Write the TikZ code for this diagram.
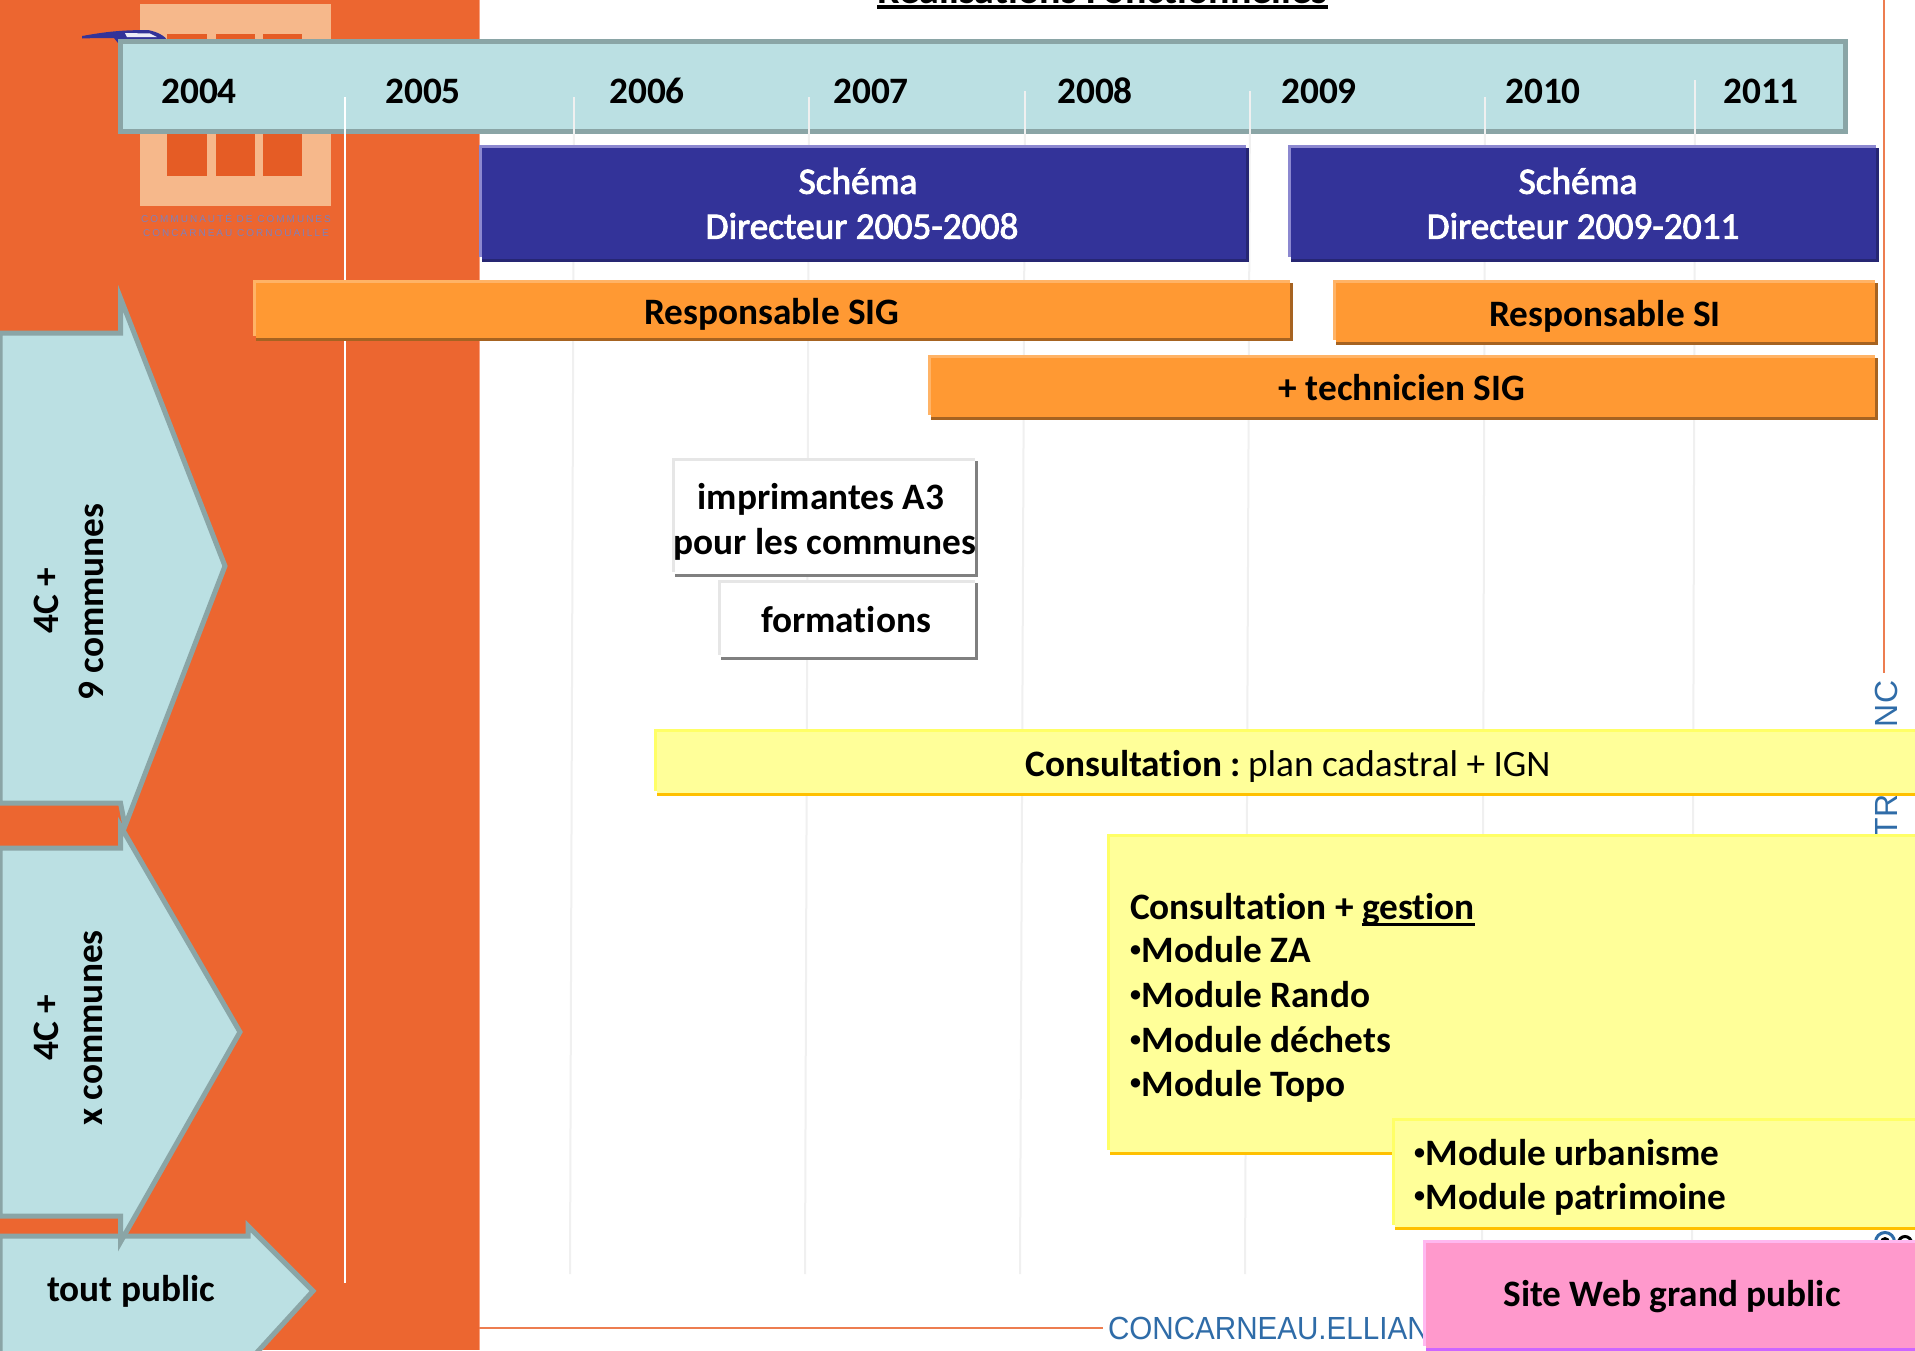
\documentclass[tikz,border=0pt]{standalone}
\usepackage{fontspec}
\setmainfont[Ligatures=NoCommon]{Carlito}
\newfontfamily\webfont{Liberation Sans}
\definecolor{orangebg}{HTML}{EC6630}
\definecolor{orangeedge}{HTML}{F8A080}
\definecolor{tealfill}{HTML}{BBE0E3}
\definecolor{tealline}{HTML}{8AA5A6}
\definecolor{logolight}{HTML}{F6B88B}
\definecolor{logodark}{HTML}{E55C25}
\definecolor{logotext}{HTML}{8080B8}
\definecolor{navyfill}{HTML}{333399}
\definecolor{navylight}{HTML}{8C88D0}
\definecolor{navydark}{HTML}{262673}
\definecolor{orfill}{HTML}{FF9933}
\definecolor{orlight}{HTML}{FFB366}
\definecolor{ordark}{HTML}{A66321}
\definecolor{yefill}{HTML}{FFFF99}
\definecolor{yelight}{HTML}{FFFF66}
\definecolor{yedark}{HTML}{FFC000}
\definecolor{pkfill}{HTML}{FF99CC}
\definecolor{pklight}{HTML}{FFB8F0}
\definecolor{pkdark}{HTML}{CC66FF}
\definecolor{wlight}{HTML}{E6E6E6}
\definecolor{wdark}{HTML}{808080}
\definecolor{gridgrey}{HTML}{F0F0F0}
\definecolor{weblue}{HTML}{2F6CA8}
\definecolor{webline}{HTML}{ED7D50}
\newcommand{\heavy}[1]{\special{pdf:code 2 Tr 0.9 w 1 1 1 RG}#1\special{pdf:code 0 Tr}}
\tikzset{
  x=1pt,y=-1pt,
  txt/.style={inner sep=0pt,outer sep=0pt,font=\fontsize{37.3}{45}\selectfont\bfseries,text=black,align=center},
  txtleft/.style={txt,align=left,anchor=west},
  whitetxt/.style={txt,text=white,font=\fontsize{37.3}{45}\selectfont},
  yeartxt/.style={txt},
  rottxt/.style={txt,rotate=90},
  arrowshape/.style={fill=tealfill,draw=tealline,line width=5pt,miter limit=10},
  gridline/.style={draw=gridgrey,line width=2pt},
  webtxt/.style={inner sep=0pt,outer sep=0pt,text=weblue,font=\fontsize{32}{32}\selectfont\webfont},
  logotxt/.style={inner sep=0pt,text=logotext,font=\fontsize{10}{10}\selectfont\webfont\addfontfeature{LetterSpace=20}},
}
% \shbox{x1}{y1}{x2}{y2}{fill}{light}{dark}
\newcommand{\shbox}[7]{%
  \fill[#7] (#1+3,#2+3) rectangle (#3,#4);
  \fill[#6] (#1,#2) rectangle (#3-3,#4-5);
  \fill[#5] (#1+3,#2+3) rectangle (#3-3,#4-3);
}
\newcommand{\thickul}[3]{\setbox0\hbox{#1}\rlap{\rule[#2]{\wd0}{#3}}\box0}
\newcommand{\smallbull}{\raisebox{6.5pt}{\fontsize{22}{22}\selectfont •}\hspace{0.5pt}}
\begin{document}
\begin{tikzpicture}
\useasboundingbox (0,0) rectangle (1915,1350);
\clip (0,0) rectangle (1915,1350);
\fill[white] (0,0) rectangle (1915,1350);
% title
\node[txt,anchor=base,font=\fontsize{40}{45}\selectfont\bfseries] (title) at (1102.5,3) {\thickul{Réalisations Fonctionnelles}{-6pt}{4pt}};
% background
\fill[orangebg] (0,0) rectangle (479,1350);
\draw[orangeedge,line width=1pt] (479.5,0) -- (479.5,1350);
% logo
\fill[logolight] (140,4) rectangle (331,206);
\foreach \a/\b in {167/207,216/255,263/302}{\fill[logodark] (\a,34) rectangle (\b,176);}
\node[logotxt] (logoa) at (236,218) {COMMUNAUTÉ DE COMMUNES};
\node[logotxt] (logob) at (236,233) {CONCARNEAU CORNOUAILLE};
\fill[navyfill] (82,36) .. controls (100,33) and (115,30) .. (148,30) .. controls (158,32) and (165,36) .. (168,41) -- (118,43) -- (114,38) .. controls (105,38) and (95,38) .. (82,38.5) -- cycle;
\fill[white!85!navylight] (125,33) -- (150,33.5) -- (157,37) -- (127,37) -- cycle;
% grid lines
\draw[gridline] (574,97) -- (570,1274);
\draw[gridline] (809,97) -- (805,1274);
\draw[gridline] (1025,91) -- (1020,1274);
\draw[gridline] (1250,91) -- (1245,1274);
\draw[gridline] (1485,97) -- (1482,1274);
\draw[gridline] (1695,80) -- (1692,1274);
% web page fragments behind the slide
\draw[webline,line width=2.5pt] (1884,0) -- (1884,673);
\draw[webline,line width=2pt] (479,1328) -- (1103,1328);
\node[webtxt,rotate=90,anchor=west] (webnc) at (1886,727) {NC};
\node[webtxt,rotate=90,anchor=west] (webtr) at (1886,837) {TR};
\node[webtxt,anchor=west] (webcon) at (1108,1328) {\scalebox{0.925}[1]{CONCARNEAU.ELLIANT}};
\draw[weblue,line width=3pt] (1885,1242) circle (9.5);
\fill[black] (1885,1242) circle (5);
\draw[black,line width=3pt] (1905,1243) circle (6.5);
% timeline bar
\draw[fill=tealfill,draw=tealline,line width=5pt] (120,41.8) rectangle (1845,131.8);
\draw[white,line width=2pt] (345,97) -- (345,1283);
\draw[gridline] (574,97) -- (574,146);
\draw[gridline] (809,97) -- (809,146);
\draw[gridline] (1025,91) -- (1025,146);
\draw[gridline] (1250,91) -- (1250,146);
\draw[gridline] (1485,97) -- (1485,146);
\draw[gridline] (1695,80) -- (1695,146);
\foreach \nm/\xx in {2004/199,2005/423,2006/647,2007/871,2008/1095,2009/1319,2010/1543,2011/1761}{
  \node[yeartxt] (y\nm) at (\xx,91) {\nm};
}
% schema
\shbox{479}{145}{1249}{262}{navyfill}{navylight}{navydark}
\shbox{1288}{145}{1879}{262}{navyfill}{navylight}{navydark}
\node[whitetxt] (sa1) at (858,181) {\heavy{Schéma}};
\node[whitetxt] (sa2) at (862,226) {\heavy{Directeur 2005-2008}};
\node[whitetxt] (sb1) at (1578,181) {\heavy{Schéma}};
\node[whitetxt] (sb2) at (1583,226) {\heavy{Directeur 2009-2011}};
% orange
\shbox{253}{280}{1293}{341}{orfill}{orlight}{ordark}
\shbox{1333}{280}{1878}{345}{orfill}{orlight}{ordark}
\shbox{928}{355}{1878}{420}{orfill}{orlight}{ordark}
\node[txt] (rsig) at (772,314) {Responsable SIG};
\node[txt] (rsi) at (1605,316) {Responsable SI};
\node[txt] (tech) at (1402,388) {+ technicien SIG};
% white
\shbox{672}{458}{978}{577}{white}{wlight}{wdark}
\shbox{718}{580}{978}{660}{white}{wlight}{wdark}
\node[txt] (imp1) at (821,499) {imprimantes A3};
\node[txt] (imp2) at (825,544) {pour les communes};
\node[txt] (form) at (846,620) {formations};
% yellow
\shbox{654}{729}{1920}{796}{yefill}{yelight}{yedark}
\node[txt] (cons) at (1288,766) {Consultation :\hspace{-4pt} \mdseries plan cadastral + IGN};
\shbox{1107}{834}{1920}{1155}{yefill}{yelight}{yedark}
\node[txtleft] (m0) at (1130,910) {Consultation + \thickul{gestion}{-6pt}{2.5pt}};
\node[txtleft] (m1) at (1130,950) {\smallbull Module ZA};
\node[txtleft] (m2) at (1130,995) {\smallbull Module Rando};
\node[txtleft] (m3) at (1130,1040) {\smallbull Module déchets};
\node[txtleft] (m4) at (1130,1086) {\smallbull Module Topo};
\shbox{1392}{1118}{1920}{1230}{yefill}{yelight}{yedark}
\node[txtleft] (m5) at (1414,1153) {\smallbull Module urbanisme};
\node[txtleft] (m6) at (1414,1199) {\smallbull Module patrimoine};
% pink
\shbox{1423}{1240}{1920}{1351}{pkfill}{pklight}{pkdark}
\node[txt] (site) at (1672,1297) {Site Web grand public};
% arrows
\draw[arrowshape] (0,1236) -- (248,1236) -- (248,1226) -- (313,1291) -- (250,1360) -- (0,1360) -- cycle;
\draw[arrowshape] (0,848) -- (120.5,848) -- (120.5,826) -- (240,1032) -- (120.5,1242) -- (120.5,1216) -- (0,1216) -- cycle;
\draw[arrowshape] (0,333) -- (120.5,333) -- (120.5,298) -- (225,566) -- (125,826) -- (120.5,803) -- (0,803) -- cycle;
\node[rottxt] (a1a) at (46,601) {4C +};
\node[rottxt] (a1b) at (91,602) {9 communes};
\node[rottxt] (a2a) at (46,1028) {4C +};
\node[rottxt] (a2b) at (93,1028) {x communes};
\node[txt] (pub) at (131,1291) {tout public};
\end{tikzpicture}
\end{document}
